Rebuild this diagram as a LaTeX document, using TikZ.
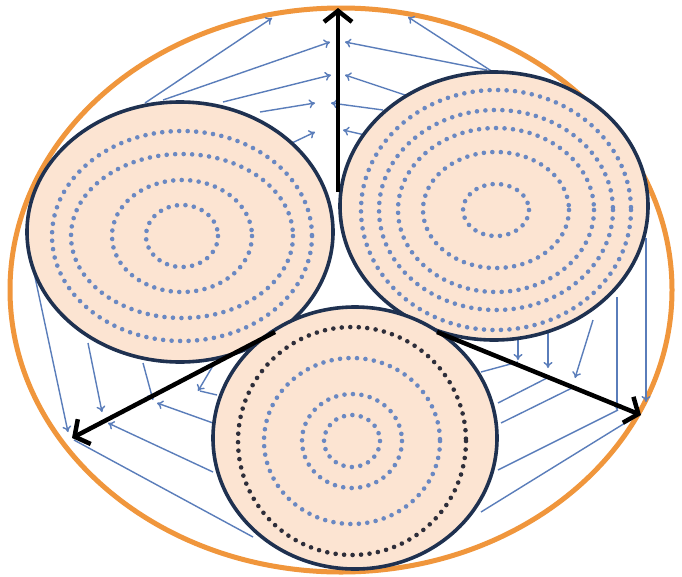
\documentclass[tikz,border=0pt]{standalone}
\usetikzlibrary{arrows.meta}
\definecolor{orangeline}{HTML}{F0963C}
\definecolor{navy}{HTML}{1F3150}
\definecolor{peach}{HTML}{FCE4D2}
\definecolor{dotblue}{HTML}{6A88C2}
\definecolor{dotdark}{HTML}{2E2E3A}
\definecolor{flowblue}{HTML}{5A7DBA}
\begin{document}
\begin{tikzpicture}[x=1pt,y=-1pt,
  shell/.style={draw=orangeline,line width=5pt},
  core/.style={draw=navy,fill=peach,line width=3.6pt},
  dotring/.style={draw=dotblue,line width=4.6pt,line cap=round,dash pattern=on 0pt off 8.5pt},
  darkring/.style={dotring,draw=dotdark},
  flow/.style={draw=flowblue,line width=1.4pt,-{To[length=6pt,width=9pt]}},
  flowline/.style={draw=flowblue,line width=1.4pt},
  axis/.style={draw=black,line width=4.5pt,-{Straight Barb[length=11pt,width=28pt]}}]
\useasboundingbox (0,0) rectangle (682,576);
\fill[white] (0,0) rectangle (682,576);
% outer shell
\coordinate (shellc) at (341,290);
\draw[shell] (shellc) ellipse [x radius=331, y radius=282];
% flow arrows
\foreach \n/\ax/\ay/\bx/\by in {
  1/145/103/272/18, 2/163/100/330/42, 3/223/102/331/75, 4/260/112/315/103, 5/273/152/315/132,
  6/493/72/408/17, 7/487/70/345/42, 8/420/100/345/75, 9/383/110/331/103, 10/387/140/343/130,
  11/32/263/68/432, 12/88/343/102/412, 13/143/363/153/400, 14/213/423/157/403, 15/214/364/198/391,
  17/213/472/108/423,
  19/646/238/646/402, 20/617/297/617/410, 21/593/320/575/378, 22/548/332/548/368, 23/518/340/518/360}
{
  \coordinate (f\n s) at (\ax,\ay);
  \coordinate (f\n e) at (\bx,\by);
  \draw[flow] (f\n s) -- (f\n e);
}
\foreach \n/\ax/\ay/\bx/\by in {
  16/217/395/200/391, 18/253/537/74/440,
  24/481/372/518/362, 25/498/403/549/377, 26/501/423/574/387, 27/498/470/618/410, 28/481/512/638/415}
{
  \coordinate (g\n s) at (\ax,\ay);
  \coordinate (g\n e) at (\bx,\by);
  \draw[flowline] (g\n s) -- (g\n e);
}
% left core
\coordinate (lc) at (180,232);
\draw[core] (lc) ellipse [x radius=153, y radius=130];
\coordinate (lr) at (182,236);
\draw[dotring] (lr) ellipse [x radius=130, y radius=105];
\draw[dotring] (lr) ellipse [x radius=111, y radius=82];
\draw[dotring] (lr) ellipse [x radius=70, y radius=56];
\draw[dotring] (lr) ellipse [x radius=36, y radius=31];
% right core
\coordinate (rc) at (494,206);
\draw[core] (rc) ellipse [x radius=154, y radius=134];
\coordinate (rr) at (496,210);
\draw[dotring] (rr) ellipse [x radius=135, y radius=120];
\draw[dotring] (rr) ellipse [x radius=117, y radius=100];
\draw[dotring] (rr) ellipse [x radius=98, y radius=82];
\draw[dotring] (rr) ellipse [x radius=73, y radius=58];
\draw[dotring] (rr) ellipse [x radius=33, y radius=26];
% bottom core
\coordinate (bc) at (355,438);
\draw[core] (bc) ellipse [x radius=142, y radius=131];
\coordinate (br) at (352,441);
\draw[darkring] (br) ellipse [x radius=114, y radius=114];
\draw[dotring] (br) ellipse [x radius=88, y radius=83];
\draw[dotring] (br) ellipse [x radius=50, y radius=47];
\draw[dotring] (br) ellipse [x radius=28, y radius=26];
% axes
\coordinate (a0) at (338,192);
\coordinate (a1) at (338,8);
\coordinate (b0) at (275,332);
\coordinate (b1) at (72,438);
\coordinate (c0) at (437,332);
\coordinate (c1) at (641,415);
\draw[axis] (a0) -- (a1);
\draw[axis] (b0) -- (b1);
\draw[axis] (c0) -- (c1);
\end{tikzpicture}
\end{document}
